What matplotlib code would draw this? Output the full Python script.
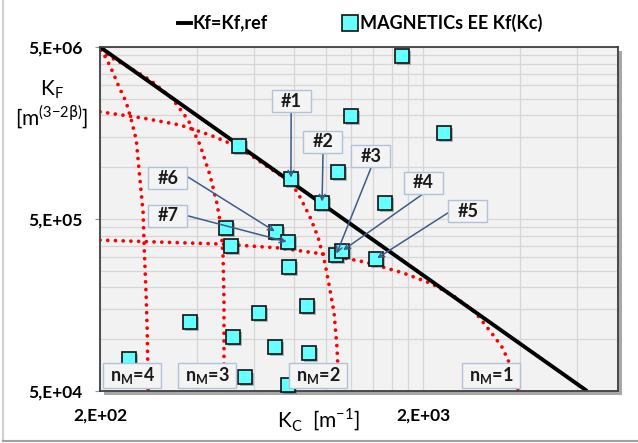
import matplotlib
matplotlib.use('Agg')
import matplotlib.pyplot as plt
from matplotlib.lines import Line2D
from matplotlib.patches import Rectangle
import matplotlib.patheffects as pe
from matplotlib.ticker import FixedLocator, NullFormatter

plt.rcParams['font.family'] = ['Lato', 'DejaVu Sans']
plt.rcParams['mathtext.fontset'] = 'dejavusans'

# ---------------- data ----------------
# MAGNETICs EE cores: Kc [1/m], Kf [m^(3-2beta)]
kc_points = [539, 780, 974, 1197, 1091, 1526, 491, 509, 701, 764, 1076, 1123, 770,
             1431, 1722, 2323, 875, 621, 380, 516, 696, 887, 246, 562, 764]
kf_points = [1.33e6, 8.54e5, 6.20e5, 1.99e6, 9.38e5, 6.20e5, 4.43e5, 3.48e5, 4.20e5,
             3.67e5, 3.09e5, 3.26e5, 2.63e5, 2.93e5, 4.43e6, 1.58e6, 1.56e5, 1.42e5,
             1.26e5, 1.03e5, 9.0e4, 8.3e4, 7.7e4, 6.0e4, 5.4e4]

# reference line Kf = Kf,ref
kc_ref = [200, 6440]
kf_ref = [5.0e6, 5.0e4]

# n_M curves
nm1_kc = [200, 307, 470, 722, 980, 1323, 1734, 2132, 2513, 2898, 3294, 3512, 3666, 3798, 3938]
nm1_kf = [3.77e5, 3.67e5, 3.58e5, 3.39e5, 3.13e5, 2.81e5, 2.43e5, 2.10e5, 1.76e5, 1.44e5,
          1.06e5, 9.0e4, 7.6e4, 6.2e4, 5.0e4]
nm2_kc = [200, 272, 354, 438, 539, 648, 780, 832, 894, 946, 994, 1031, 1061, 1083, 1099]
nm2_kf = [2.10e6, 1.93e6, 1.76e6, 1.54e6, 1.31e6, 1.03e6, 8.2e5, 6.71e5, 5.13e5, 3.93e5,
          2.77e5, 1.93e5, 1.42e5, 9.0e4, 5.0e4]
nm3_kc = [201, 215, 239, 286, 334, 375, 408, 438, 460, 474, 481, 484, 484]
nm3_kf = [4.80e6, 4.37e6, 3.93e6, 3.21e6, 2.52e6, 1.88e6, 1.35e6, 9.0e5, 6.20e5, 4.49e5,
          3.01e5, 1.69e5, 5.0e4]
nm4_kc = [201, 209, 219, 229, 241, 251, 259, 266, 272, 274, 278, 280, 282]
nm4_kf = [4.80e6, 4.31e6, 3.58e6, 2.93e6, 2.39e6, 1.83e6, 1.44e6, 8.43e5, 5.42e5, 3.44e5,
          1.76e5, 1.13e5, 5.0e4]
curve_names = ['n$_\\mathregular{M}$=1', 'n$_\\mathregular{M}$=2',
               'n$_\\mathregular{M}$=3', 'n$_\\mathregular{M}$=4']

# numbered callouts -> index of the pointed core
callout_labels = ['#1', '#2', '#3', '#4', '#5', '#6', '#7']
callout_index = [1, 2, 10, 11, 13, 8, 9]

x_ticks = [200, 2000]
x_ticklabels = ['2,E+02', '2,E+03']
y_ticks = [5e4, 5e5, 5e6]
y_ticklabels = ['5,E+04', '5,E+05', '5,E+06']

# ---------------- figure ----------------
W, H = 638, 443
fig = plt.figure(figsize=(W / 100, H / 100), dpi=100)
fig.patch.set_facecolor('white')

def fx(px):
    return px / W

def fy(py):
    return 1 - py / H

ax_l, ax_r, ax_t, ax_b = 100, 618, 47, 391
ax = fig.add_axes([fx(ax_l), fy(ax_b), (ax_r - ax_l) / W, (ax_b - ax_t) / H], zorder=1)
ax.set_facecolor('#F2F2F2')

# shadow of the plot frame
fig.patches.append(Rectangle((fx(ax_l + 4), fy(ax_b + 4)), (ax_r - ax_l) / W, (ax_b - ax_t) / H,
                             transform=fig.transFigure, facecolor='#A8A8A8',
                             edgecolor='none', zorder=-5))
# faint page edges
fig.add_artist(Line2D([fx(3), fx(3)], [fy(0), fy(441)], color='#D0D0D0', lw=1.5,
                      transform=fig.transFigure, zorder=-5))
fig.add_artist(Line2D([fx(3), fx(638)], [fy(441), fy(441)], color='#A0A0A0', lw=1.5,
                      transform=fig.transFigure, zorder=-5))

ax.set_xscale('log')
ax.set_yscale('log')
ax.set_xlim(200, 8030)
ax.set_ylim(5e4, 5e6)

ax.xaxis.set_major_locator(FixedLocator(x_ticks))
ax.set_xticklabels(x_ticklabels, fontsize=12.5, fontweight='bold')
ax.yaxis.set_major_locator(FixedLocator(y_ticks))
ax.set_yticklabels(y_ticklabels, fontsize=12.5, fontweight='bold')
ax.xaxis.set_minor_locator(FixedLocator([k * 200 for k in range(2, 10)] +
                                        [k * 2000 for k in range(2, 5)]))
ax.yaxis.set_minor_locator(FixedLocator([k * 5e4 for k in range(2, 10)] +
                                        [k * 5e5 for k in range(2, 10)]))
ax.xaxis.set_minor_formatter(NullFormatter())
ax.yaxis.set_minor_formatter(NullFormatter())
ax.tick_params(axis='x', which='major', length=0, pad=12)
ax.tick_params(axis='y', which='major', length=3.6, color='#909090', pad=9)
ax.tick_params(which='minor', length=0)
ax.grid(True, which='both', color='#D6D6D6', lw=0.9)
ax.set_axisbelow(True)
for s in ax.spines.values():
    s.set_color('#404040')
    s.set_linewidth(1.3)

# n_M curves
dot = dict(color='#FF0000', lw=2.7, linestyle=(0, (0.01, 2.05)), dash_capstyle='round',
           zorder=2, clip_on=True)
for cx, cy in [(nm1_kc, nm1_kf), (nm2_kc, nm2_kf), (nm3_kc, nm3_kf), (nm4_kc, nm4_kf)]:
    ax.plot(cx, cy, **dot)

# reference line
ax.plot(kc_ref, kf_ref, color='black', lw=2.8, zorder=2.5, solid_capstyle='butt')

# points
ax.plot(kc_points, kf_points, linestyle='none', marker='s', markersize=10,
        markerfacecolor='#66FFFF', markeredgecolor='#111111', markeredgewidth=1.2,
        zorder=3, clip_on=False,
        path_effects=[pe.SimplePatchShadow(offset=(1.5, -1.5), alpha=0.35), pe.Normal()])

# callouts
box_w, box_h = 39 / 518, 22 / 344
callout_centers = [(0.369, 0.843), (0.4305, 0.724), (0.523, 0.683), (0.6236, 0.605),
                   (0.710, 0.523), (0.131, 0.619), (0.131, 0.509)]
callout_starts = [(0.369, 0.811), (0.4305, 0.692), (0.523, 0.648), (0.6236, 0.573),
                  (0.674, 0.520), (0.170, 0.622), (0.170, 0.509)]
for lab, idx, (cx, cy), (sx, sy) in zip(callout_labels, callout_index, callout_centers,
                                        callout_starts):
    ax.add_patch(Rectangle((cx - box_w / 2, cy - box_h / 2), box_w, box_h,
                           transform=ax.transAxes, facecolor='#F4F4F4',
                           edgecolor='#AFC3DD', lw=1.0, zorder=5))
    ax.text(cx, cy, lab, transform=ax.transAxes, ha='center', va='center',
            fontsize=13, fontweight='bold', color='#1A1A1A', zorder=6)
    ax.annotate('', xy=(kc_points[idx], kf_points[idx]), xycoords='data',
                xytext=(sx, sy), textcoords='axes fraction',
                arrowprops=dict(arrowstyle='->', color='#3C5C88', lw=1.1,
                                shrinkA=0, shrinkB=1, mutation_scale=10),
                zorder=4)

# n_M boxes
nm_w, nm_h = 58 / 518, 25 / 344
nm_centers = [0.755, 0.421, 0.2066, 0.062]
for name, cx in zip(curve_names, nm_centers):
    cy = 0.045
    ax.add_patch(Rectangle((cx - nm_w / 2, cy - nm_h / 2), nm_w, nm_h,
                           transform=ax.transAxes, facecolor='#F4F4F4',
                           edgecolor='#AFC3DD', lw=1.0, zorder=5))
    ax.text(cx, cy, name, transform=ax.transAxes, ha='center', va='center',
            fontsize=13, fontweight='bold', color='#1A1A1A', zorder=6)

# axis titles
fig.text(fx(52), fy(90), 'K$_\\mathregular{F}$', ha='center', va='center', fontsize=15)
fig.text(fx(52), fy(117), '[m$^{\\mathregular{(3{-}2}\\mathrm{\\beta}\\mathregular{)}}$]',
         ha='center', va='center', fontsize=15)
fig.text(fx(318), fy(420), 'K$_\\mathregular{C}$  [m$^{\\mathregular{{-}1}}$]',
         ha='center', va='center', fontsize=15)

# legend (manual, top)
fig.add_artist(Line2D([fx(178), fx(191)], [fy(23), fy(23)], color='black', lw=2.8,
                      transform=fig.transFigure))
fig.text(fx(192), fy(23), 'Kf=Kf,ref', ha='left', va='center', fontsize=13,
         fontweight='bold')
fig.add_artist(Line2D([fx(349.5)], [fy(23)], marker='s', markersize=11,
                      markerfacecolor='#66FFFF', markeredgecolor='#111111',
                      markeredgewidth=1.2, transform=fig.transFigure))
fig.text(fx(360), fy(23), 'MAGNETICs EE Kf(Kc)', ha='left', va='center', fontsize=13,
         fontweight='bold')

fig.savefig('out.png', dpi=100)
